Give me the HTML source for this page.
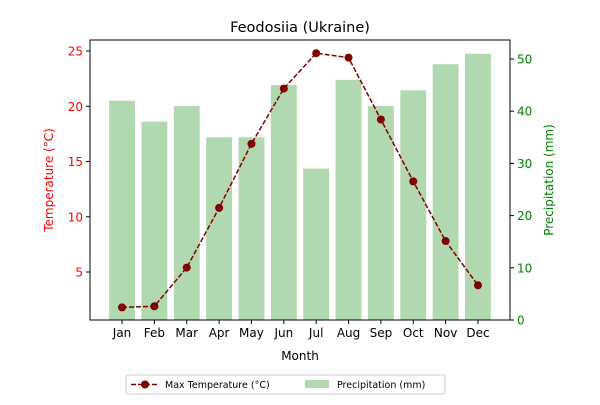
<!DOCTYPE html>
<html><head><meta charset="utf-8"><style>
body{margin:0;background:#fff;font-family:"Liberation Sans","DejaVu Sans",sans-serif}
svg text{font-family:"DejaVu Sans","Liberation Sans",sans-serif}
</style></head><body>
<svg id="chart" width="600" height="400" viewBox="0 0 600 400" xmlns="http://www.w3.org/2000/svg">
<rect width="600" height="400" fill="#fff"/>
<text x="300" y="32" font-size="14.5" text-anchor="middle">Feodosiia (Ukraine)</text>
<g id="bars"></g><g id="line"></g><g id="axes"></g>
<rect x="90" y="40" width="420" height="280" fill="none" stroke="#000" stroke-width="1"/>
<text x="300" y="360" font-size="12" text-anchor="middle">Month</text>
<text transform="translate(53,180) rotate(-90)" font-size="12" fill="red" text-anchor="middle">Temperature (°C)</text>
<text transform="translate(553,180) rotate(-90)" font-size="12" fill="green" text-anchor="middle">Precipitation (mm)</text>
<g>
<rect x="126" y="375" width="319" height="19" rx="2" fill="#fff" stroke="#ccc"/>
<line x1="131" y1="384.5" x2="159" y2="384.5" stroke="#800000" stroke-width="1.5" stroke-dasharray="5,2"/>
<circle cx="145" cy="384.5" r="4" fill="#800000"/>
<text x="165" y="388" font-size="9.5">Max Temperature (°C)</text>
<rect x="305" y="380" width="24" height="8" fill="#b1d8b1"/>
<text x="337" y="388" font-size="9.5">Precipitation (mm)</text>
</g>
</svg>
<script>
const months=["Jan","Feb","Mar","Apr","May","Jun","Jul","Aug","Sep","Oct","Nov","Dec"];
const maxTemp=[1.8,1.9,5.4,10.8,16.6,21.6,24.8,24.4,18.8,13.2,7.8,3.8];
const precip=[42,38,41,35,35,45,29,46,41,44,49,51];
const tempTicks=[5,10,15,20,25];
const precipTicks=[0,10,20,30,40,50];
const NS="http://www.w3.org/2000/svg";
const L=90,R=510,T=40,B=320;
const xs=i=>L+(i+0.99)*(R-L)/12.98;
const yT=v=>51+(25-v)*11.05;
const yP=v=>B-v*5.22;
function mk(tag,attrs,parent){const e=document.createElementNS(NS,tag);for(const k in attrs)e.setAttribute(k,attrs[k]);document.getElementById(parent).appendChild(e);return e;}
const bw=0.8*(R-L)/12.98;
precip.forEach((v,i)=>{const r=mk('rect',{x:xs(i)-bw/2,y:yP(v),width:bw,height:B-yP(v),fill:'#b1d8b1'},'bars');

});
const pl=mk('polyline',{points:maxTemp.map((v,i)=>xs(i)+','+yT(v)).join(' '),fill:'none',stroke:'#800000','stroke-width':1.5,'stroke-dasharray':'5,2'},'line');


maxTemp.forEach((v,i)=>{const c=mk('circle',{cx:xs(i),cy:yT(v),r:4,fill:'#800000'},'line');

});
months.forEach((m,i)=>{mk('line',{x1:xs(i),x2:xs(i),y1:B,y2:B+4,stroke:'#000'},'axes');
const t=mk('text',{x:xs(i),y:B+17,'font-size':12,'text-anchor':'middle'},'axes');t.textContent=m;

});
tempTicks.forEach(v=>{mk('line',{x1:L-4,x2:L,y1:yT(v),y2:yT(v),stroke:'#000'},'axes');
const t=mk('text',{x:L-7,y:yT(v)+4.5,'font-size':12,'text-anchor':'end',fill:'red'},'axes');t.textContent=v;

});
precipTicks.forEach(v=>{mk('line',{x1:R,x2:R+4,y1:yP(v),y2:yP(v),stroke:'#000'},'axes');
const t=mk('text',{x:R+7,y:yP(v)+4.5,'font-size':12,fill:'green'},'axes');t.textContent=v;

});
</script>
</body></html>
